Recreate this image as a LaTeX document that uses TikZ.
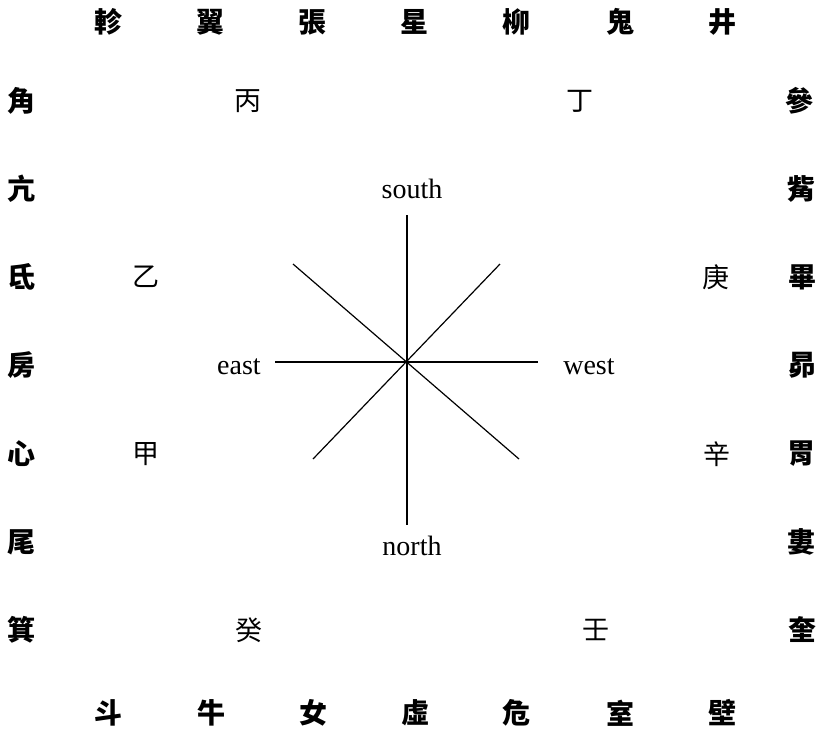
\documentclass[tikz,border=0pt]{standalone}
\usepackage{fontspec}
\setmainfont{Liberation Serif}
\newfontfamily\cjk{Noto Sans CJK TC}

\begin{document}
\begin{tikzpicture}[x=1pt,y=-1pt,
  mansion/.style={font=\cjk\bfseries\fontsize{28}{28}\selectfont,inner sep=0pt},
  stem/.style={font=\cjk\fontsize{27}{27}\selectfont,inner sep=0pt},
  quarter/.style={font=\fontsize{28}{28}\selectfont,inner sep=0pt},
  spoke/.style={line width=1.2pt}]
  \useasboundingbox (0,0) rectangle (826,729);

  % mansions, top row
  \node[mansion] (chariot)  at (108,22) {軫};
  \node[mansion] (wings)    at (210,22) {翼};
  \node[mansion] (extended) at (312,22) {張};
  \node[mansion] (star)     at (414,22) {星};
  \node[mansion] (willow)   at (516,22) {柳};
  \node[mansion] (ghost)    at (620,22) {鬼};
  \node[mansion] (well)     at (722,22) {井};
  % mansions, left column
  \node[mansion] (horn)     at (21,101) {角};
  \node[mansion] (neck)     at (21,189) {亢};
  \node[mansion] (root)     at (21,277) {氐};
  \node[mansion] (room)     at (21,365) {房};
  \node[mansion] (heart)    at (21,454) {心};
  \node[mansion] (tail)     at (21,542) {尾};
  \node[mansion] (basket)   at (21,630) {箕};
  % mansions, right column
  \node[mansion] (three)    at (799,101) {參};
  \node[mansion] (turtle)   at (801,189) {觜};
  \node[mansion] (net)      at (802,277) {畢};
  \node[mansion] (hairy)    at (802,365) {昴};
  \node[mansion] (stomach)  at (801,454) {胃};
  \node[mansion] (bond)     at (801,542) {婁};
  \node[mansion] (legs)     at (802,630) {奎};
  % mansions, bottom row
  \node[mansion] (dipper)   at (108,713) {斗};
  \node[mansion] (ox)       at (211,713) {牛};
  \node[mansion] (girl)     at (313,713) {女};
  \node[mansion] (emptiness) at (415,713) {虛};
  \node[mansion] (rooftop)  at (516,713) {危};
  \node[mansion] (camp)     at (620,713) {室};
  \node[mansion] (wall)     at (722,713) {壁};

  % stems
  \node[stem] (bing) at (248,101) {丙};
  \node[stem] (ding) at (580,101) {丁};
  \node[stem] (yi)   at (146,277) {乙};
  \node[stem] (geng) at (716,277) {庚};
  \node[stem] (jia)  at (146,454) {甲};
  \node[stem] (xin)  at (717,454) {辛};
  \node[stem] (gui)  at (249,630) {癸};
  \node[stem] (ren)  at (596,630) {壬};

  % quarters
  \node[quarter] (south) at (412,189) {south};
  \node[quarter] (north) at (412,546) {north};
  \node[quarter] (east)  at (239,367) {east};
  \node[quarter] (west)  at (589,367) {west};

  \coordinate (s)  at (407,215);
  \coordinate (n)  at (407,525);
  \coordinate (e)  at (275,362);
  \coordinate (w)  at (538,362);
  \coordinate (se) at (293,264);
  \coordinate (nw) at (519,459);
  \coordinate (sw) at (500,264);
  \coordinate (ne) at (313,459);

  \draw[spoke] (s) -- (n);
  \draw[spoke] (e) -- (w);
  \draw[spoke] (se) -- (nw);
  \draw[spoke] (sw) -- (ne);
\end{tikzpicture}
\end{document}
